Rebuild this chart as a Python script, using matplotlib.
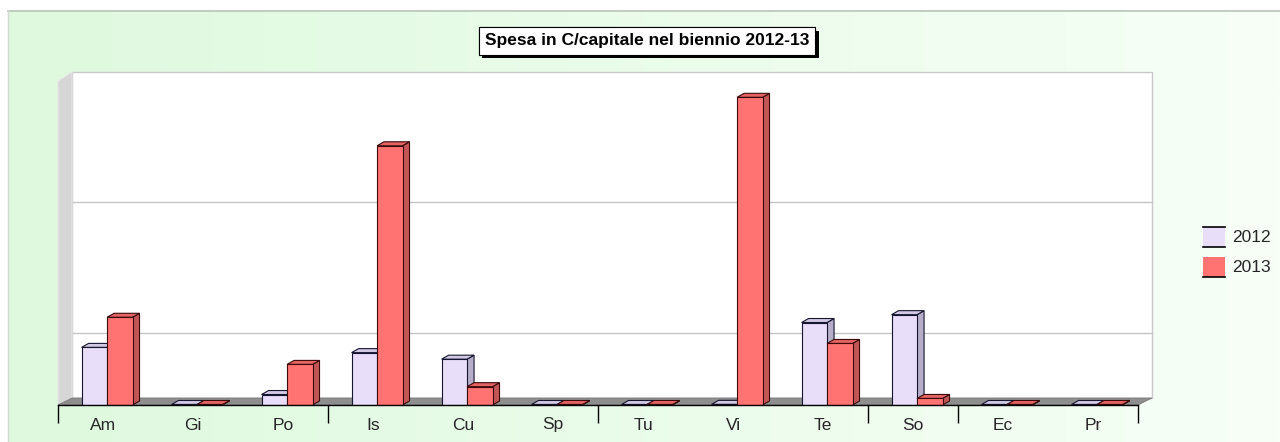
import matplotlib
matplotlib.use("Agg")
import matplotlib.pyplot as plt
import matplotlib.patches as mpatches
import matplotlib.patheffects as pe
import numpy as np

plt.rcParams['font.family'] = ['Liberation Sans', 'DejaVu Sans']

# spending per function, 2012 vs 2013 (arbitrary units, no axis scale shown)
categories = ["Am", "Gi", "Po", "Is", "Cu", "Sp", "Tu", "Vi", "Te", "So", "Ec", "Pr"]
spesa_2012 = [44, 0.4, 8, 40, 35, 0.4, 0.4, 0.5, 63, 69, 0.4, 0.4]
spesa_2013 = [67, 0.4, 31, 198, 14, 0.4, 0.4, 235, 47, 5, 0.4, 0.4]
years = ["2012", "2013"]
group_ticks = [-0.5, 2.5, 5.5, 8.5, 9.5, 11.5]
grid_values = [50, 150]

W, H = 1280, 442
fig = plt.figure(figsize=(W / 100, H / 100), dpi=100)
fig.patch.set_facecolor("white")

# background: pale green fading to the right
bg = fig.add_axes([0, 0, 1, 1], zorder=-10)
bg.set_xlim(0, W)
bg.set_ylim(H, 0)
bg.axis("off")
c0 = np.array([222, 249, 222]) / 255
c1 = np.array([247, 255, 247]) / 255
t = np.linspace(0, 1, 256)[None, :, None]
grad = c0 * (1 - t) + c1 * t
bg.imshow(grad, extent=[8, W, H, 11], aspect="auto", interpolation="bilinear")
bg.plot([8, W], [11, 11], color="#b8c4b8", lw=1.2)
bg.plot([8, 8], [11, H], color="#d0dcd0", lw=1)

ax = fig.add_axes([58 / W, (H - 405) / H, 1080 / W, 326 / H])
ax.set_xlim(-0.5, len(categories) - 0.5)
ax.set_ylim(0, 249)
ax.patch.set_visible(False)
for s in ["top", "right", "left"]:
    ax.spines[s].set_visible(False)
ax.spines["bottom"].set_color("black")
ax.spines["bottom"].set_linewidth(1)
ax.spines["bottom"].set_zorder(6)
ax.set_yticks([])

# pixel -> data unit conversion for the fake depth
p0 = ax.transData.transform((0, 0))
p1 = ax.transData.transform((1, 1))
ux, uy = p1[0] - p0[0], p1[1] - p0[1]
wall_dx, wall_dy = 14 / ux, 7 / uy
bar_dx, bar_dy = 7 / ux, 4 / uy

x0, x1 = ax.get_xlim()
y1 = ax.get_ylim()[1]

# back wall, side wall and floor
back = mpatches.Rectangle((x0 + wall_dx, wall_dy), x1 - x0, y1, fc="white",
                          ec="#c8c8c8", lw=1, clip_on=False, zorder=0)
ax.add_patch(back)
for g in grid_values:
    ax.plot([x0 + wall_dx, x1 + wall_dx], [g + wall_dy, g + wall_dy],
            color="#c4c4c4", lw=1, clip_on=False, zorder=1)
side = mpatches.Polygon([(x0, 0), (x0 + wall_dx, wall_dy), (x0 + wall_dx, y1 + wall_dy),
                         (x0, y1 - 2 / uy)], closed=True, fc="#d6d6d6", ec="#e6e6e6",
                        lw=0.8, clip_on=False, zorder=1)
ax.add_patch(side)
floor = mpatches.Polygon([(x0, 0), (x1, 0), (x1 + wall_dx, wall_dy), (x0 + wall_dx, wall_dy)],
                         closed=True, fc="#8e8e8e", ec="#7a7a7a", lw=0.6,
                         clip_on=False, zorder=2)
ax.add_patch(floor)

# 3d-looking bars
width = 0.283
shift = 0.045
styles = [
    dict(face="#e8defa", side="#b6aec8", top="#d2cae4", edge="#151530"),
    dict(face="#ff7373", side="#c25656", top="#e46464", edge="#3a0a0a"),
]
xs = np.arange(len(categories))
for k, (vals, st) in enumerate(zip([spesa_2012, spesa_2013], styles)):
    left = xs + shift - width + k * width
    for xl, v in zip(left, vals):
        xr = xl + width
        z = 3 + k
        ax.add_patch(mpatches.Polygon([(xr, 0), (xr + bar_dx, bar_dy), (xr + bar_dx, v + bar_dy),
                                       (xr, v)], closed=True, fc=st["side"], ec=st["edge"],
                                      lw=0.8, zorder=z, clip_on=False))
        ax.add_patch(mpatches.Polygon([(xl, v), (xr, v), (xr + bar_dx, v + bar_dy),
                                       (xl + bar_dx, v + bar_dy)], closed=True, fc=st["top"],
                                      ec=st["edge"], lw=0.8, zorder=z, clip_on=False))
    ax.bar(left, vals, width=width, align="edge", color=st["face"],
           edgecolor=st["edge"], linewidth=0.8, zorder=3 + k)

ax.set_xticks(xs)
ax.set_xticklabels(categories, fontsize=12.5, color="#262626")
ax.tick_params(axis="x", which="major", length=0, pad=9)
ax.set_xticks(group_ticks, minor=True)
ax.tick_params(axis="x", which="minor", length=13, width=1, color="black")

# legend
for i, (yr, st) in enumerate(zip(years, styles)):
    yb = (H - 247) / H - i * (30 / H)
    hgt = 20 / H
    fig.patches.append(mpatches.Rectangle((1203 / W, yb), 22 / W, hgt, fc=st["face"],
                                          ec="none", transform=fig.transFigure))
    fig.lines.append(plt.Line2D([1203 / W, 1225 / W], [yb, yb], color="black", lw=1.2,
                                transform=fig.transFigure))
    if i == 0:
        fig.lines.append(plt.Line2D([1203 / W, 1225 / W], [yb + hgt, yb + hgt],
                                    color="black", lw=1.2, transform=fig.transFigure))
    fig.text(1232 / W, yb + hgt / 2, yr, fontsize=12.5, va="center", ha="left", color="#262626")

title = fig.text(647 / W, 1 - 41 / H, "Spesa in C/capitale nel biennio 2012-13",
                 fontsize=12.5, fontweight="bold", ha="center", va="center",
                 bbox=dict(boxstyle="square,pad=0.35", fc="white", ec="black", lw=0.8))
title.get_bbox_patch().set_path_effects([
    pe.withSimplePatchShadow(offset=(2.5, -2.5), shadow_rgbFace="black", alpha=1.0),
    pe.Normal()])

fig.savefig("out.png", dpi=100)
